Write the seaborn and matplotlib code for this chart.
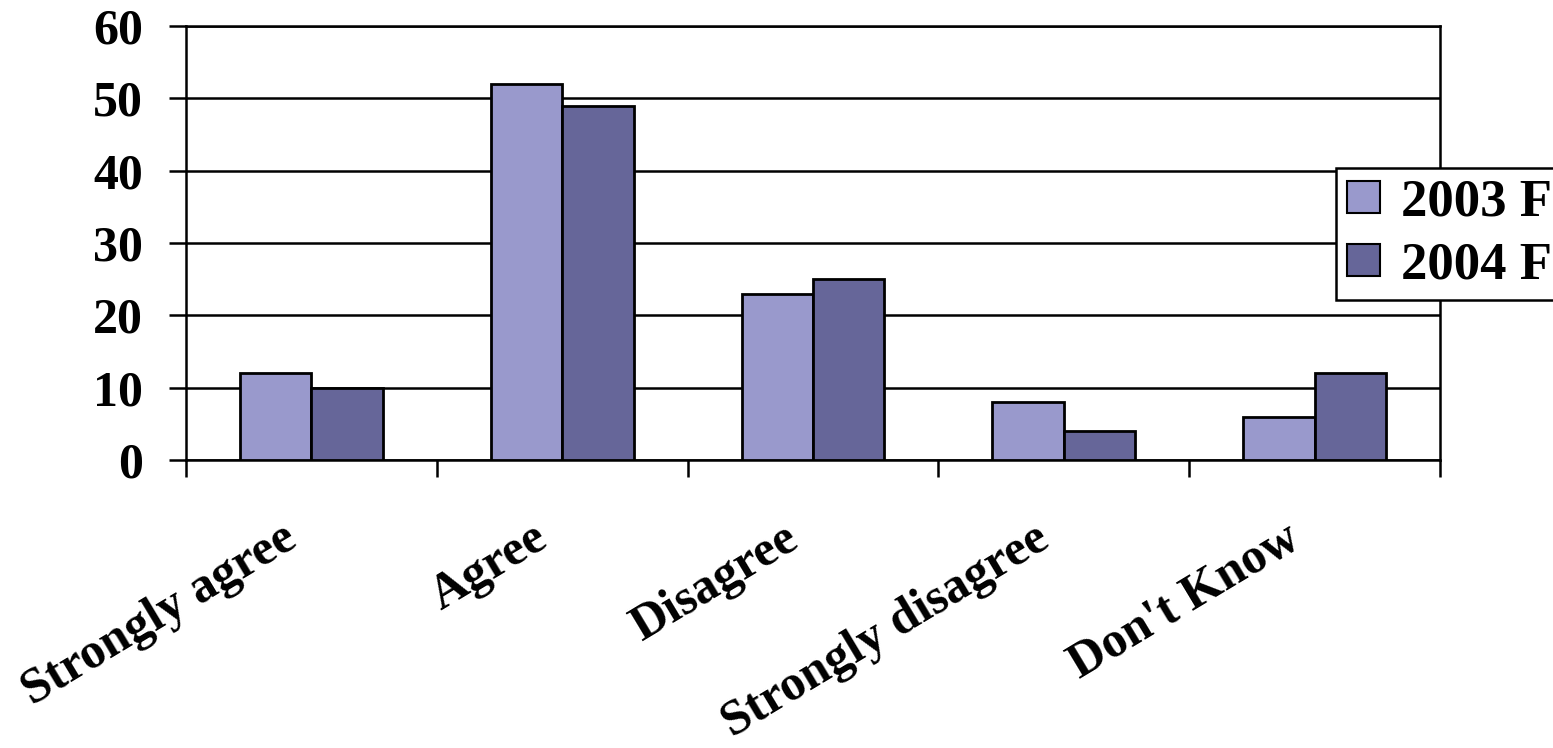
import matplotlib
matplotlib.use("Agg")
import matplotlib.pyplot as plt
import seaborn as sns
import pandas as pd

categories = ["Strongly agree", "Agree", "Disagree", "Strongly disagree", "Don't Know"]
series_names = ["2003 F", "2004 F"]
values_2003 = [12, 52, 23, 8, 6]
values_2004 = [10, 49, 25, 4, 12]
y_ticks = [0, 10, 20, 30, 40, 50, 60]

df = pd.DataFrame({
    "category": categories * 2,
    "series": [series_names[0]] * len(categories) + [series_names[1]] * len(categories),
    "value": values_2003 + values_2004,
})

sns.set_theme(style="white")
plt.rcParams["font.family"] = ["Liberation Serif", "DejaVu Serif"]
plt.rcParams["font.weight"] = "bold"
plt.rcParams["text.color"] = "black"

fig = plt.figure(figsize=(15.53, 7.48), dpi=100)
ax = fig.add_axes([186 / 1553, 1 - 460 / 748, (1440 - 186) / 1553, (460 - 26) / 748])

palette = {"2003 F": "#9999CC", "2004 F": "#666699"}
sns.barplot(data=df, x="category", y="value", hue="series", palette=palette,
            width=0.57, edgecolor="black", linewidth=2, saturation=1,
            ax=ax, zorder=3, legend=True)

ax.set_xlim(-0.5, len(categories) - 0.5)
ax.set_ylim(0, 60)
ax.set_yticks(y_ticks)
ax.set_yticklabels([str(t) for t in y_ticks], fontsize=36, fontweight="bold", color="black")
ax.yaxis.grid(True, color="black", linewidth=1.8, zorder=0)
ax.set_axisbelow(True)
ax.set_xlabel("")
ax.set_ylabel("")

# category ticks at the group boundaries; slanted labels end just left of each group centre
label_offset = 0.12
ax.set_xticks([i - 0.5 for i in range(len(categories) + 1)], minor=False)
ax.set_xticklabels([""] * (len(categories) + 1))
ax.set_xticks([i - label_offset for i in range(len(categories))], minor=True)
ax.set_xticklabels(categories, minor=True, rotation=31, ha="right", va="top",
                   rotation_mode="anchor", fontsize=36, fontweight="bold", color="black")
ax.tick_params(axis="x", which="major", direction="out", length=12, width=1.8,
               color="black", bottom=True)
ax.tick_params(axis="x", which="minor", length=0, pad=40)
ax.tick_params(axis="y", direction="out", length=12, width=1.8, color="black",
               left=True, pad=19, labelcolor="black")

for side in ["left", "right", "top", "bottom"]:
    ax.spines[side].set_visible(True)
    ax.spines[side].set_color("black")
    ax.spines[side].set_linewidth(1.8)

handles, labels = ax.get_legend_handles_labels()
leg = ax.legend(handles, labels, loc="upper left",
                bbox_to_anchor=(1336 / 1553, 1 - 168 / 748), bbox_transform=fig.transFigure,
                frameon=True, fancybox=False, shadow=False, framealpha=1,
                prop={"family": "Liberation Serif", "weight": "bold", "size": 38},
                handlelength=0.64, handleheight=0.55, handletextpad=0.4,
                borderpad=0.2, labelspacing=0.28, borderaxespad=0)
leg.get_frame().set_edgecolor("black")
leg.get_frame().set_linewidth(1.8)
for txt in leg.get_texts():
    txt.set_color("black")
for h in leg.legend_handles:
    h.set_edgecolor("black")
    h.set_linewidth(1.5)

fig.savefig("out.png", dpi=100)
